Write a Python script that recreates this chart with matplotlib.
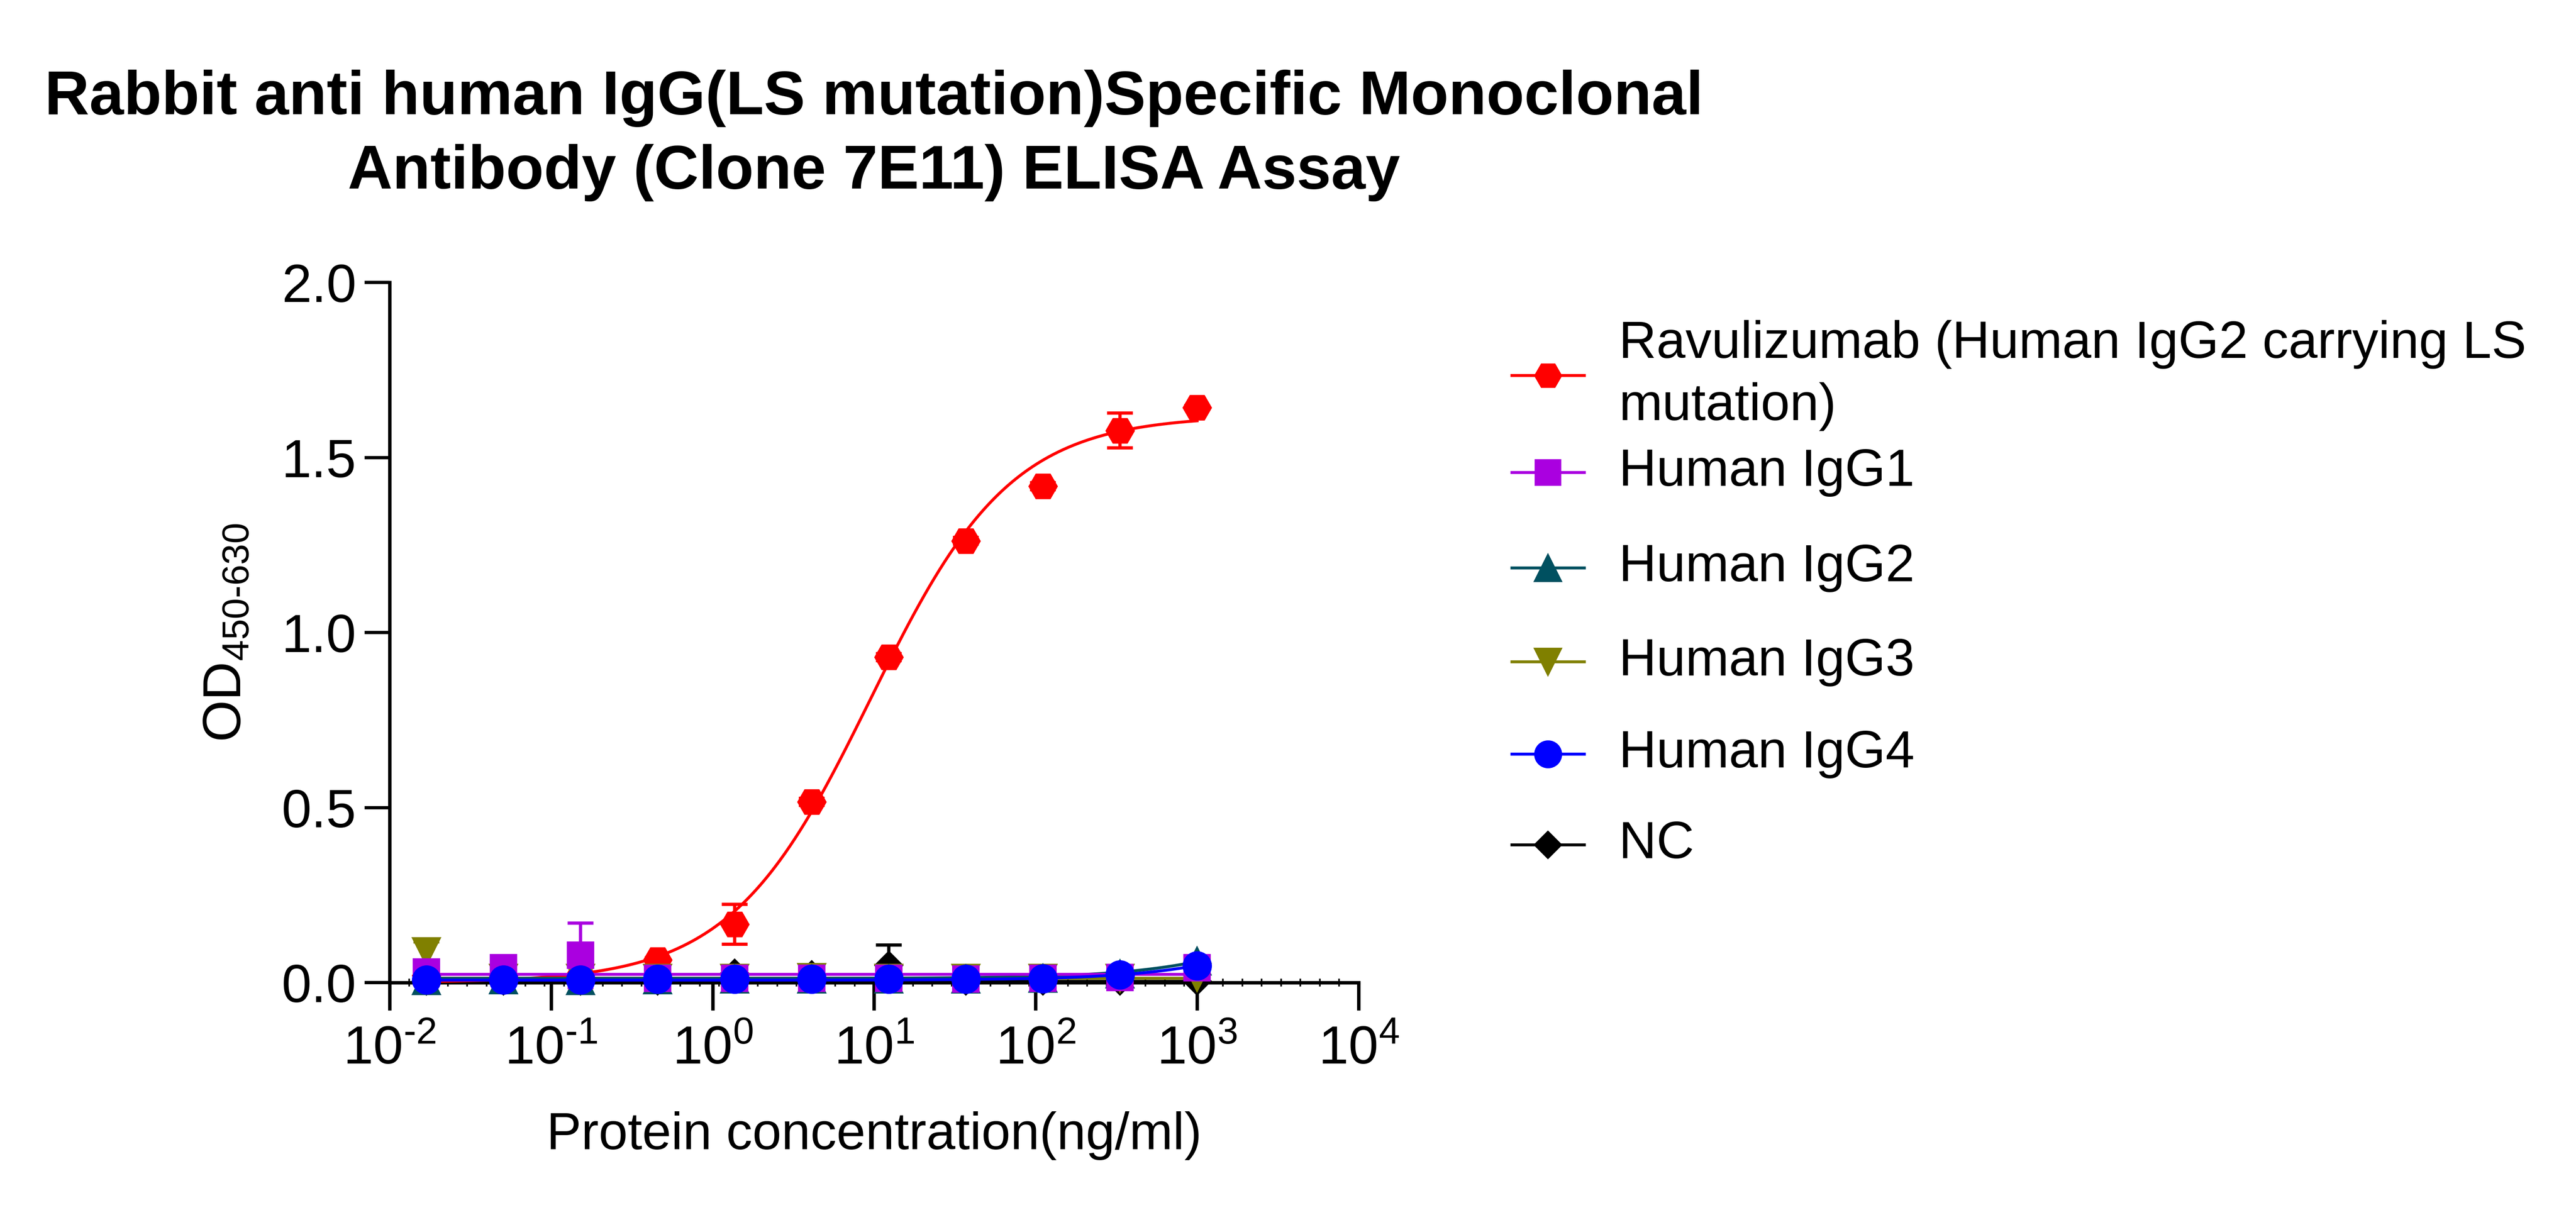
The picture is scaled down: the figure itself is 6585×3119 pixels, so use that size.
import numpy as np
import matplotlib
matplotlib.use("Agg")
import matplotlib.pyplot as plt
from matplotlib.lines import Line2D
from matplotlib.ticker import FixedLocator, FuncFormatter, NullFormatter

plt.rcParams['font.family'] = ['Liberation Sans', 'DejaVu Sans']
plt.rcParams['mathtext.fontset'] = 'custom'
plt.rcParams['mathtext.rm'] = 'Liberation Sans'
plt.rcParams['mathtext.it'] = 'Liberation Sans:italic'
plt.rcParams['mathtext.bf'] = 'Liberation Sans:bold'

# 3-fold dilution series (ng/ml)
conc = [0.01694, 0.0508, 0.1524, 0.4572, 1.372, 4.115, 12.35, 37.04, 111.1, 333.3, 1000.0]

labels = ["Ravulizumab (Human IgG2 carrying LS\nmutation)", "Human IgG1", "Human IgG2",
          "Human IgG3", "Human IgG4", "NC"]
colors = ['#FF0000', '#AA00E0', '#005060', '#808000', '#0000FF', '#000000']
markers = ['H', 's', '^', 'v', 'o', 'D']
msizes = [17, 16, 17, 17, 17, 12]
zorders = [4, 7, 6, 5, 8, 3]

# OD450-630 means and SD
od_ravu = [0.020, 0.020, 0.022, 0.065, 0.167, 0.516, 0.930, 1.262, 1.418, 1.577, 1.643]
sd_ravu = [0.0, 0.0, 0.0, 0.005, 0.057, 0.010, 0.010, 0.010, 0.010, 0.050, 0.005]
od_igg1 = [0.030, 0.042, 0.078, 0.012, 0.012, 0.012, 0.012, 0.010, 0.012, 0.014, 0.042]
sd_igg1 = [0.0, 0.0, 0.092, 0.0, 0.0, 0.0, 0.0, 0.0, 0.0, 0.0, 0.0]
od_igg2 = [0.006, 0.008, 0.006, 0.008, 0.010, 0.010, 0.010, 0.010, 0.012, 0.025, 0.062]
sd_igg2 = [0.0] * 11
od_igg3 = [0.088, 0.012, 0.012, 0.012, 0.012, 0.014, 0.012, 0.012, 0.012, 0.012, 0.015]
sd_igg3 = [0.028, 0.0, 0.0, 0.0, 0.0, 0.0, 0.0, 0.0, 0.0, 0.0, 0.0]
od_igg4 = [0.008, 0.008, 0.008, 0.010, 0.010, 0.010, 0.010, 0.010, 0.011, 0.022, 0.048]
sd_igg4 = [0.0] * 11
od_nc = [0.005, 0.005, 0.005, 0.005, 0.027, 0.022, 0.049, 0.005, 0.005, 0.005, 0.005]
sd_nc = [0.0, 0.0, 0.0, 0.0, 0.0, 0.0, 0.058, 0.0, 0.0, 0.0, 0.0]

means = [od_ravu, od_igg1, od_igg2, od_igg3, od_igg4, od_nc]
sds = [sd_ravu, sd_igg1, sd_igg2, sd_igg3, sd_igg4, sd_nc]

# 4PL fit parameters per series: bottom, top, EC50, hill
fit_params = [
    (0.0, 1.62, 9.5, 1.0),
    (0.023, 0.023, 1.0, 1.0),
    (0.012, 0.30, 5000.0, 1.0),
    (0.012, 0.012, 1.0, 1.0),
    (0.007, 0.30, 6000.0, 1.0),
    (0.003, 0.003, 1.0, 1.0),
]

# legend rows (figure fraction), GraphPad keeps the 2-line label tight
legend_rows_y = [0.6922, 0.6127, 0.5345, 0.4575, 0.3819, 0.3075]
legend_handle_x = (0.5869, 0.6150)
legend_text_x = 0.6284


def four_pl(x, bottom, top, ec50, hill):
    return bottom + (top - bottom) / (1.0 + (ec50 / x) ** hill)


def decade_label(v, pos):
    e = int(round(np.log10(v)))
    if e < 0:
        return r'$\mathregular{10^{\text{-}%d}}$' % abs(e)
    return r'$\mathregular{10^{%d}}$' % e


fig = plt.figure(figsize=(6585 / 300, 3119 / 300), dpi=300)
ax = fig.add_axes([0.15125, 0.19461, 0.37616, 0.57390])

xfit = np.logspace(np.log10(conc[0]), np.log10(conc[-1]), 300)
for i in range(len(labels)):
    ax.plot(xfit, four_pl(xfit, *fit_params[i]), color=colors[i], lw=1.8,
            zorder=zorders[i], clip_on=False)
    ax.errorbar(conc, means[i], yerr=sds[i], fmt=markers[i], ms=msizes[i],
                color=colors[i], mec=colors[i], ecolor=colors[i], elinewidth=2,
                capsize=8, capthick=2, linestyle='none', zorder=zorders[i] + 0.5,
                clip_on=False)

ax.set_xscale('log')
ax.set_xlim(1e-2, 1e4)
ax.set_ylim(0, 2.0)

for side in ['top', 'right']:
    ax.spines[side].set_visible(False)
for side in ['left', 'bottom']:
    ax.spines[side].set_linewidth(2.1)

ax.xaxis.set_major_locator(FixedLocator([1e-2, 1e-1, 1e0, 1e1, 1e2, 1e3, 1e4]))
ax.xaxis.set_major_formatter(FuncFormatter(decade_label))
minor_step = 0.12
minor_pos = [10 ** (-2 + minor_step * k) for k in range(1, 50) if k != 25]
ax.xaxis.set_minor_locator(FixedLocator(minor_pos))
ax.xaxis.set_minor_formatter(NullFormatter())

ax.set_yticks([0.0, 0.5, 1.0, 1.5, 2.0])
ax.yaxis.set_major_formatter(FuncFormatter(lambda v, p: '%.1f' % v))

ax.tick_params(axis='x', which='major', direction='out', length=17, width=2.1,
               labelsize=33, pad=9)
ax.tick_params(axis='x', which='minor', direction='inout', length=5, width=1.0)
ax.tick_params(axis='y', which='major', direction='out', length=15.4, width=2.0,
               labelsize=33, pad=5)

ax.set_xlabel('Protein concentration(ng/ml)', fontsize=32, labelpad=22)
ax.set_ylabel(r'OD$_{\mathregular{450\text{-}630}}$', fontsize=33, labelpad=18)

fig.text(0.3393, 0.889,
         "Rabbit anti human IgG(LS mutation)Specific Monoclonal\nAntibody (Clone 7E11) ELISA Assay",
         ha='center', va='center', fontsize=38, fontweight='bold', linespacing=1.38)

# legend drawn by hand so the rows sit like in GraphPad
hx0, hx1 = legend_handle_x
for i in range(len(labels)):
    y = legend_rows_y[i]
    fig.add_artist(Line2D([hx0, hx1], [y, y], color=colors[i], lw=1.8,
                          transform=fig.transFigure))
    fig.add_artist(Line2D([(hx0 + hx1) / 2], [y], color=colors[i], marker=markers[i],
                          ms=msizes[i] * 0.95, mec=colors[i], linestyle='none',
                          transform=fig.transFigure))
    fig.text(legend_text_x, y, labels[i], ha='left', va='center', fontsize=32,
             linespacing=1.35)

fig.savefig('out.png', dpi=300)
